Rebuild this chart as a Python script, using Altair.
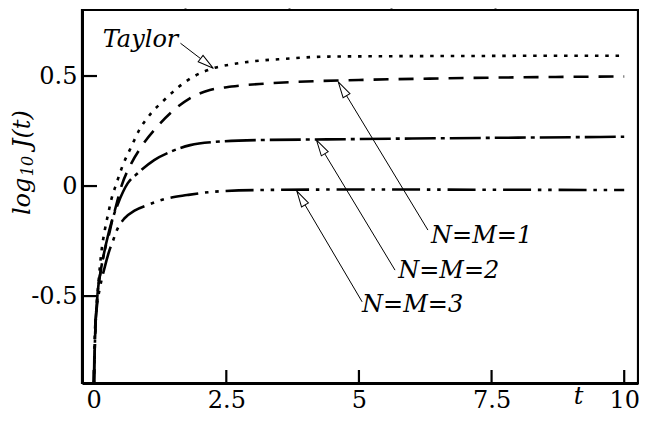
import math
import altair as alt
import pandas as pd

# ---------------- data ----------------
T_TAYLOR = [0.005, 0.025, 0.07, 0.09, 0.15, 0.21, 0.27, 0.33, 0.43, 0.55, 0.71, 0.86, 1.08,
            1.33, 1.57, 1.88, 2.25, 2.6, 3.05, 3.6, 4.35, 5.5, 7.0, 8.5, 10.0]
Y_TAYLOR = [-0.9, -0.7, -0.5, -0.44, -0.29, -0.2, -0.13, -0.064, 0.012, 0.095, 0.179, 0.255, 0.33,
            0.391, 0.444, 0.497, 0.535, 0.553, 0.568, 0.578, 0.588, 0.59, 0.591, 0.592, 0.592]

T_NM1 = [0.005, 0.025, 0.07, 0.13, 0.2, 0.3, 0.35, 0.4, 0.52, 0.71, 0.92, 1.2, 1.51, 1.82, 2.19,
         2.6, 3.2, 4.0, 5.0, 6.5, 8.0, 10.0]
Y_NM1 = [-0.9, -0.7, -0.5, -0.39, -0.3, -0.21, -0.155, -0.11, -0.003, 0.103, 0.186, 0.27, 0.345,
         0.40, 0.436, 0.452, 0.465, 0.475, 0.482, 0.489, 0.494, 0.498]

T_NM2 = [0.005, 0.025, 0.07, 0.13, 0.2, 0.26, 0.33, 0.46, 0.64, 0.83, 1.14, 1.45, 1.82, 2.25,
         3.12, 4.4, 6.0, 8.0, 10.0]
Y_NM2 = [-0.9, -0.7, -0.5, -0.39, -0.3, -0.235, -0.17, -0.079, 0.012, 0.058, 0.118, 0.156, 0.186,
         0.20, 0.209, 0.212, 0.216, 0.220, 0.224]

T_NM3 = [0.005, 0.02, 0.06, 0.12, 0.21, 0.30, 0.37, 0.43, 0.58, 0.77, 1.02, 1.39, 1.76, 2.25,
         3.12, 4.5, 6.0, 8.0, 10.0]
Y_NM3 = [-0.9, -0.68, -0.55, -0.46, -0.367, -0.29, -0.245, -0.205, -0.147, -0.112, -0.086,
         -0.056, -0.041, -0.026, -0.018, -0.016, -0.016, -0.017, -0.018]

X_TICKS = [0, 2.5, 5, 7.5, 10]
Y_TICKS = [-0.5, 0, 0.5]
TOP_MINOR = [1.73, 3.68, 5.61, 7.56]
RIGHT_MINOR = [0.459, 0.118, -0.223, -0.559]

LABELS = ["Taylor", "N=M=1", "N=M=2", "N=M=3"]
LABEL_T = [0.17, 6.36, 5.74, 5.06]
LABEL_Y = [0.632, -0.259, -0.418, -0.573]
TAIL_T = [1.636, 6.30, 5.68, 5.06]
TAIL_Y = [0.649, -0.20, -0.382, -0.526]
TIP_T = [2.255, 4.61, 4.20, 3.83]
TIP_Y = [0.535, 0.473, 0.209, -0.023]

YTITLE_TEXT = ["log", "10", "J(t)"]
YTITLE_T = [-1.208, -1.15, -1.208]
YTITLE_Y = [-0.132, 0.045, 0.172]
YTITLE_SIZE = [24, 16, 24]

XTITLE_TEXT = ["t"]
XTITLE_T = [9.05]
XTITLE_Y = [-0.99]

# ---------------- layout ----------------
W, H = 556, 373
XDOM = [-0.22, 10.26]
YDOM = [-0.895, 0.8]
PXX = W / (XDOM[1] - XDOM[0])
PXY = H / (YDOM[1] - YDOM[0])
SERIF = "DejaVu Serif"

xs = alt.Scale(domain=XDOM, nice=False, zero=False)
ys = alt.Scale(domain=YDOM, nice=False, zero=False)


def series_df(ts, ys_):
    return pd.DataFrame({"t": ts, "v": ys_})


def line_layer(ts, ys_, dash, first=False):
    if first:
        xenc = alt.X("t:Q", scale=xs, axis=alt.Axis(
            values=X_TICKS, ticks=False, domain=True, domainWidth=3, domainColor="black",
            labelFont=SERIF, labelFontSize=24, labelColor="black", labelPadding=5,
            labelExpr="'' + datum.value", labelFlush=False, labelOverlap=False,
            grid=False, title=None))
        yenc = alt.Y("v:Q", scale=ys, axis=alt.Axis(
            values=Y_TICKS, ticks=False, domain=True, domainWidth=3, domainColor="black",
            labelFont=SERIF, labelFontSize=24, labelColor="black", labelPadding=5,
            labelExpr="'' + datum.value", labelFlush=False, labelOverlap=False,
            grid=False, title=None))
    else:
        xenc = alt.X("t:Q", scale=xs, axis=None)
        yenc = alt.Y("v:Q", scale=ys, axis=None)
    return alt.Chart(series_df(ts, ys_)).mark_line(
        color="black", strokeWidth=2.6, strokeDash=dash, clip=True, interpolate="monotone"
    ).encode(x=xenc, y=yenc, order="t:Q")


taylor = line_layer(T_TAYLOR, Y_TAYLOR, [3.5, 6.8], first=True)
nm1 = line_layer(T_NM1, Y_NM1, [15, 10])
nm2 = line_layer(T_NM2, Y_NM2, [31, 5, 4, 5])
nm3 = line_layer(T_NM3, Y_NM3, [28, 6.8, 3.5, 6.8, 3.5, 6.9])

# inward ticks on bottom and left
btick = pd.DataFrame({"t": X_TICKS, "v": [YDOM[0]] * len(X_TICKS),
                      "v2": [YDOM[0] + 13 / PXY] * len(X_TICKS)})
ltick = pd.DataFrame({"v": Y_TICKS, "t": [XDOM[0]] * len(Y_TICKS),
                      "t2": [XDOM[0] + 15 / PXX] * len(Y_TICKS)})
bticks = alt.Chart(btick).mark_rule(color="black", strokeWidth=2.2).encode(
    x=alt.X("t:Q", scale=xs, axis=None), y=alt.Y("v:Q", scale=ys, axis=None), y2="v2:Q")
lticks = alt.Chart(ltick).mark_rule(color="black", strokeWidth=2.2).encode(
    y=alt.Y("v:Q", scale=ys, axis=None), x=alt.X("t:Q", scale=xs, axis=None), x2="t2:Q")

# tiny ticks on top and right frame (as axes without labels)
minor = alt.Chart(pd.DataFrame({"t": [5.0], "v": [0.0]})).mark_point(opacity=0).encode(
    x=alt.X("t:Q", scale=xs, axis=alt.Axis(orient="top", values=TOP_MINOR, labels=False,
                                           domain=False, grid=False, tickSize=2,
                                           tickWidth=2, tickColor="black", title=None)),
    y=alt.Y("v:Q", scale=ys, axis=alt.Axis(orient="right", values=RIGHT_MINOR, labels=False,
                                           domain=False, grid=False, tickSize=2,
                                           tickWidth=2, tickColor="black", title=None)),
)

# annotation arrows
angles = []
for a, b, c, d in zip(TAIL_T, TAIL_Y, TIP_T, TIP_Y):
    dx = (c - a) * PXX
    dy = -(d - b) * PXY
    angles.append(math.degrees(math.atan2(dx, -dy)) % 360)
arr = pd.DataFrame({"t": TAIL_T, "v": TAIL_Y, "t2": TIP_T, "v2": TIP_Y, "ang": angles})
arrow_lines = alt.Chart(arr).mark_rule(color="black", strokeWidth=1).encode(
    x=alt.X("t:Q", scale=xs, axis=None), y=alt.Y("v:Q", scale=ys, axis=None),
    x2="t2:Q", y2="v2:Q")
heads = alt.Chart(arr).mark_point(
    shape="M0,0L0.25,1L-0.25,1Z", size=1024, filled=True, fill="white", stroke="black",
    strokeWidth=1, opacity=1, fillOpacity=1
).encode(
    x=alt.X("t2:Q", scale=xs, axis=None), y=alt.Y("v2:Q", scale=ys, axis=None),
    angle=alt.Angle("ang:Q", scale=None))

labels = alt.Chart(pd.DataFrame({"t": LABEL_T, "v": LABEL_Y, "txt": LABELS})).mark_text(
    align="left", baseline="alphabetic", font=SERIF, fontStyle="italic", fontSize=24,
    color="black").encode(
    x=alt.X("t:Q", scale=xs, axis=None), y=alt.Y("v:Q", scale=ys, axis=None), text="txt:N")

ytitle = alt.Chart(pd.DataFrame({"t": YTITLE_T, "v": YTITLE_Y, "txt": YTITLE_TEXT,
                                 "fs": YTITLE_SIZE})).mark_text(
    align="left", baseline="alphabetic", font=SERIF, fontStyle="italic", angle=270,
    color="black").encode(
    x=alt.X("t:Q", scale=xs, axis=None), y=alt.Y("v:Q", scale=ys, axis=None), text="txt:N",
    size=alt.Size("fs:Q", scale=None))

xtitle = alt.Chart(pd.DataFrame({"t": XTITLE_T, "v": XTITLE_Y, "txt": XTITLE_TEXT})).mark_text(
    align="left", baseline="alphabetic", font=SERIF, fontStyle="italic", fontSize=24,
    color="black").encode(
    x=alt.X("t:Q", scale=xs, axis=None), y=alt.Y("v:Q", scale=ys, axis=None), text="txt:N")

chart = alt.layer(
    taylor, nm1, nm2, nm3, bticks, lticks, minor, arrow_lines, heads, labels, ytitle, xtitle
).resolve_axis(x="independent", y="independent").properties(
    width=W, height=H,
    autosize=alt.AutoSizeParams(type="none"),
    padding={"left": 74, "top": 2, "right": 1, "bottom": 30},
    background="white",
).configure_view(stroke="black", strokeWidth=2.2)

chart.save("out.html", embed_options={"renderer": "svg", "actions": False})
